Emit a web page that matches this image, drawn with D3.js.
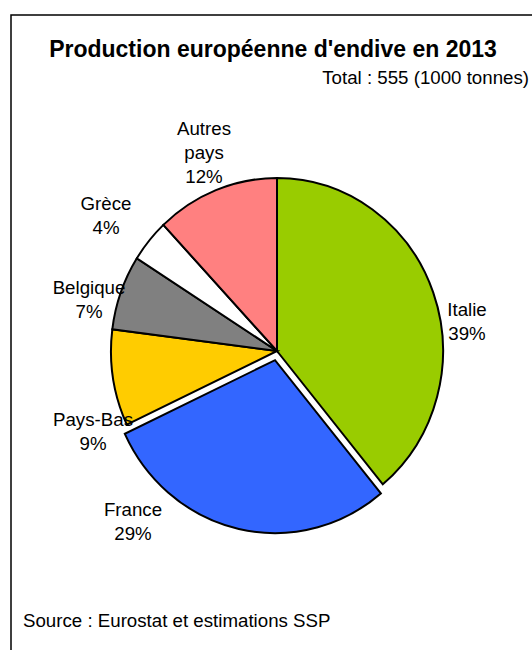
<!DOCTYPE html>
<html lang="fr">
<head>
<meta charset="UTF-8"/>
<title>Production européenne d'endive en 2013</title>
<script src="https://d3js.org/d3.v7.min.js"></script>
<style>
  body { margin: 0; background: #fff; }
  text { font-family: "Liberation Sans", Arial, sans-serif; fill: #000; }
</style>
</head>
<body>
<script>
var countries = ["Italie", "France", "Pays-Bas", "Belgique", "Grèce", "Autres pays"];
var shares = [39, 29, 9, 7, 4, 12];
var colors = ["#99cc00", "#3366ff", "#ffcc00", "#808080", "#ffffff", "#ff8080"];
var exploded = ["France"];

var w = 532, h = 650;
var cx = 277, cy = 351;
var rx = 166, ry = 173;
var fs = "18.7px";

// where each label sits (centre of the text block, first baseline)
var labelPos = {
    "Italie": [467, 316],
    "France": [133, 516],
    "Pays-Bas": [93, 426],
    "Belgique": [89, 294],
    "Grèce": [106, 210],
    "Autres pays": [204, 135]
};

var svg = d3.select("body").append("svg")
    .attr("width", w)
    .attr("height", h);

// frame (runs past the right and bottom edges)
svg.append("rect")
    .attr("x", 11).attr("y", 15)
    .attr("width", 540).attr("height", 660)
    .attr("fill", "none")
    .attr("stroke", "#000")
    .attr("stroke-width", 1.5);

svg.append("text")
    .attr("x", 273).attr("y", 57)
    .attr("text-anchor", "middle")
    .attr("font-size", "23px")
    .attr("font-weight", "bold")
    .text("Production européenne d'endive en 2013");

svg.append("text")
    .attr("x", 529).attr("y", 84)
    .attr("text-anchor", "end")
    .attr("font-size", fs)
    .text("Total : 555 (1000 tonnes)");

var data = countries.map(function(c, i) {
    return { name: c, value: shares[i], color: colors[i] };
});

var pie = d3.pie().sort(null).value(function(d) { return d.value; });
var arc = d3.arc().innerRadius(0).outerRadius(rx);

var g = svg.append("g")
    .attr("transform", "translate(" + cx + "," + cy + ") scale(1," + (ry / rx) + ")");

g.selectAll("path")
    .data(pie(data))
    .enter()
    .append("path")
    .attr("d", arc)
    .attr("fill", function(d) { return d.data.color; })
    .attr("stroke", "#000")
    .attr("stroke-width", 2)
    .attr("stroke-linejoin", "miter")
    .attr("vector-effect", "non-scaling-stroke")
    .attr("transform", function(d) {
        if (exploded.indexOf(d.data.name) < 0) return null;
        var a = (d.startAngle + d.endAngle) / 2;
        var off = 9;
        return "translate(" + (Math.sin(a) * off) + "," + (-Math.cos(a) * off) + ")";
    });

data.forEach(function(d) {
    var p = labelPos[d.name];
    var lines = d.name.split(" ").concat([d.value + "%"]);
    var t = svg.append("text")
        .attr("x", p[0]).attr("y", p[1])
        .attr("text-anchor", "middle")
        .attr("font-size", fs);
    lines.forEach(function(l, i) {
        t.append("tspan")
            .attr("x", p[0])
            .attr("dy", i === 0 ? 0 : 24)
            .text(l);
    });
});

svg.append("text")
    .attr("x", 23).attr("y", 627)
    .attr("font-size", fs)
    .text("Source : Eurostat et estimations SSP");
</script>
</body>
</html>
